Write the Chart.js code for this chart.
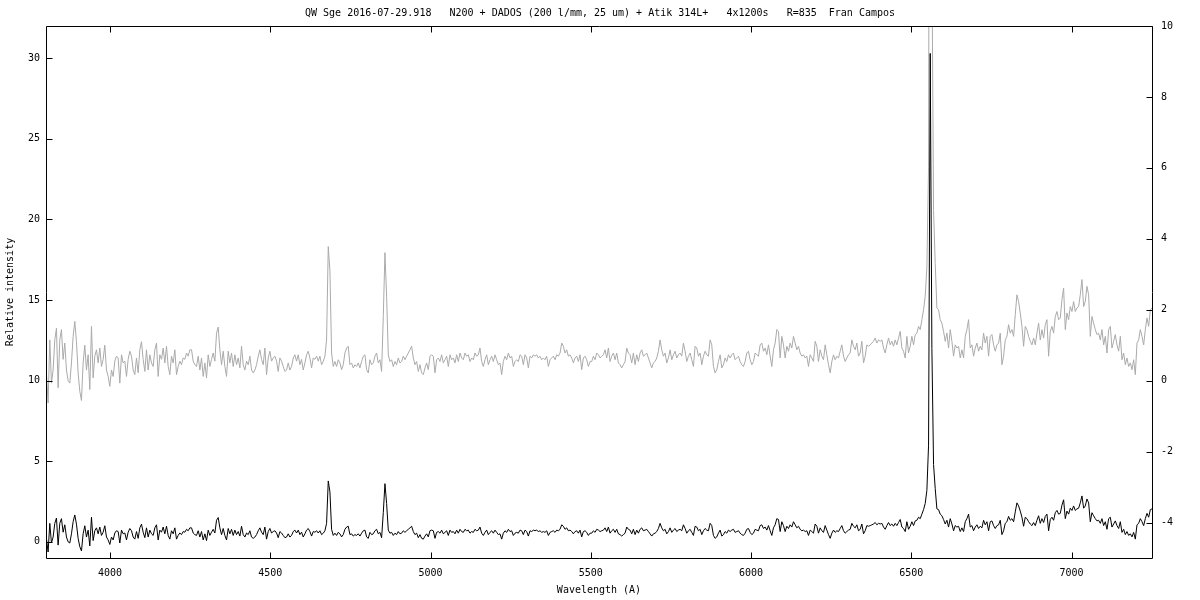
<!DOCTYPE html>
<html>
<head>
<meta charset="utf-8">
<title>QW Sge 2016-07-29.918</title>
<script src="https://cdn.jsdelivr.net/npm/chart.js@4.4.0/dist/chart.umd.min.js"></script>
<style>
  html, body { margin: 0; padding: 0; background: #fff; }
  #wrap { width: 1200px; height: 600px; }
</style>
</head>
<body>
<div id="wrap"><canvas id="spectrum" width="1200" height="600"></canvas></div>
<script>
// Spectrum, linear dispersion (start + step per sample)
const lambdaStart = 3801.4;
const lambdaStep = 5.203;

// 3801 - 4654 A
const fluxBlue = [
    0.2, -0.63, 1.15, -0.07, 0.3, 1.15, 1.48, -0.2, 1.15, 1.44,
    0.6, 1.06, 0.3, 0.0, -0.07, 0.5, 1.25, 1.67, 1.1, 0.22,
    -0.3, -0.56, 0.5, 1.0, 0.3, 0.73, -0.25, 1.53, 0.08, 0.69,
    0.87, 0.5, 0.92, 0.4, 0.6, 1.0, 0.3, 0.12, -0.16, 0.3,
    0.12, 0.55, 0.69, 0.64, -0.07, 0.73, 0.5, 0.55, 0.12, 0.6,
    0.83, 0.69, 0.3, 0.17, 0.64, 0.22, 0.87, 1.1, 0.6, 0.26,
    0.87, 0.3, 0.73, 0.5, 0.4, 0.87, 1.06, 0.12, 0.73, 0.6,
    0.92, 0.5, 0.97, 0.4, 0.17, 0.69, 0.5, 0.87, 0.17, 0.4,
    0.55, 0.45, 0.64, 0.6, 0.78, 0.69, 0.87, 0.87, 0.55, 0.45,
    0.4, 0.69, 0.3, 0.64, 0.12, 0.5, 0.08, 0.73, 0.4, 0.6,
    0.78, 0.55, 1.34, 1.51, 0.87, 0.45, 0.83, 0.4, 0.12, 0.83,
    0.5, 0.78, 0.4, 0.73, 0.45, 0.64, 0.36, 0.97, 0.45, 0.3,
    0.55, 0.45, 0.69, 0.3, 0.22, 0.3, 0.45, 0.69, 0.87, 0.6,
    0.45, 0.92, 0.17, 0.64, 0.83, 0.55, 0.64, 0.69, 0.55, 0.26,
    0.64, 0.55, 0.4, 0.26, 0.3, 0.5, 0.3, 0.4, 0.64, 0.73,
    0.55, 0.73, 0.45, 0.6, 0.3, 0.5, 0.73, 0.83, 0.64, 0.36,
    0.64, 0.6, 0.69, 0.55, 0.69
];

// 4659 - 5497 A (He II 4686, H-beta)
const fluxGreen = [
    0.45, 0.54, 0.69, 1.15, 3.78, 3.1, 0.78, 0.40, 0.54, 0.40,
    0.59, 0.50, 0.31, 0.45, 0.78, 0.92, 0.97, 0.45, 0.50, 0.36,
    0.45, 0.40, 0.50, 0.36, 0.54, 0.69, 0.73, 0.31, 0.22, 0.59,
    0.45, 0.50, 0.69, 0.78, 0.50, 0.59, 0.26, 1.81, 3.61, 2.38,
    0.73, 0.54, 0.59, 0.40, 0.54, 0.45, 0.64, 0.50, 0.54, 0.69,
    0.59, 0.69, 0.78, 0.87, 0.97, 0.64, 0.45, 0.54, 0.26, 0.45,
    0.22, 0.17, 0.36, 0.50, 0.31, 0.69, 0.73, 0.69, 0.22, 0.59,
    0.64, 0.54, 0.73, 0.50, 0.59, 0.69, 0.40, 0.73, 0.59, 0.64,
    0.50, 0.73, 0.54, 0.78, 0.64, 0.59, 0.78, 0.69, 0.73, 0.54,
    0.64, 0.59, 0.78, 0.69, 0.73, 0.92, 0.54, 0.40, 0.59, 0.73,
    0.45, 0.59, 0.69, 0.54, 0.73, 0.59, 0.45, 0.50, 0.17, 0.54,
    0.69, 0.59, 0.78, 0.64, 0.69, 0.40, 0.54, 0.59, 0.54, 0.73,
    0.69, 0.45, 0.73, 0.64, 0.36, 0.69, 0.64, 0.73, 0.69, 0.73,
    0.64, 0.69, 0.59, 0.64, 0.59, 0.69, 0.40, 0.59, 0.64, 0.69,
    0.59, 0.73, 0.69, 0.78, 1.06, 0.97, 0.78, 0.87, 0.69, 0.73,
    0.64, 0.50, 0.64, 0.69, 0.54, 0.73, 0.31, 0.64, 0.69, 0.59,
    0.40, 0.54
];

// 5502 - 6402 A
const fluxYellow = [
    0.54, 0.69, 0.59, 0.78, 0.73, 0.64, 0.69, 0.73, 0.87, 0.64,
    0.92, 0.54, 0.69, 0.78, 0.59, 0.78, 0.50, 0.45, 0.36, 0.45,
    0.54, 0.92, 0.78, 0.73, 0.50, 0.78, 0.45, 0.73, 0.54, 0.78,
    0.87, 0.69, 0.73, 0.78, 0.64, 0.50, 0.36, 0.50, 0.54, 0.64,
    0.83, 1.15, 0.87, 0.69, 0.78, 0.50, 0.64, 0.87, 0.59, 0.73,
    0.83, 0.64, 0.73, 0.78, 0.69, 1.06, 0.83, 0.54, 0.69, 0.78,
    0.59, 0.40, 0.97, 0.92, 0.69, 0.78, 0.45, 0.69, 0.83, 0.73,
    0.69, 1.15, 1.01, 0.40, 0.22, 0.31, 0.54, 0.73, 0.36, 0.45,
    0.64, 0.54, 0.73, 0.64, 0.73, 0.78, 0.59, 0.64, 0.69, 0.54,
    0.45, 0.40, 0.54, 0.78, 0.83, 0.59, 0.45, 0.54, 0.78, 0.73,
    0.69, 1.01, 1.06, 0.83, 0.92, 0.73, 1.01, 0.69, 0.40, 0.87,
    1.06, 1.44, 1.39, 0.64, 1.25, 1.01, 0.64, 0.97, 0.83, 1.06,
    0.92, 1.25, 1.06, 0.87, 0.97, 0.78, 0.69, 0.73, 0.64, 0.69,
    0.40, 0.73, 0.64, 0.54, 1.11, 0.97, 0.54, 0.87, 0.69, 0.59,
    1.01, 0.73, 0.45, 0.22, 0.54, 0.73, 0.59, 0.69, 0.64, 0.83,
    1.01, 0.69, 0.54, 0.64, 0.73, 0.78, 1.15, 0.97, 0.87, 1.06,
    0.69, 0.78, 1.11, 0.50, 0.69, 1.01, 0.97, 1.01, 1.06, 1.11,
    1.20, 1.06, 1.15, 1.11
];

// 6408 - 7251 A (H-alpha)
const fluxRed = [
    1.15, 0.92, 0.78, 1.01, 1.20, 1.01, 1.11, 0.97, 1.15, 1.01,
    1.20, 1.39, 0.92, 0.83, 0.64, 1.25, 0.78, 0.97, 1.25, 1.01,
    1.30, 1.34, 1.53, 1.44, 1.72, 2.00, 2.38, 3.2, 6.0, 30.3,
    12.0, 4.8, 3.3, 2.05, 2.00, 1.72, 1.62, 1.39, 1.11, 1.34,
    0.92, 1.44, 1.11, 0.69, 1.01, 0.92, 0.97, 0.64, 0.87, 0.64,
    1.25, 1.44, 1.72, 0.92, 1.01, 0.69, 0.92, 1.06, 0.83, 0.97,
    0.87, 1.34, 1.06, 1.25, 0.69, 1.25, 1.30, 1.01, 0.83, 1.01,
    1.06, 1.34, 0.45, 0.69, 1.15, 1.25, 1.58, 1.34, 1.44, 1.25,
    1.86, 2.42, 2.23, 1.91, 1.53, 0.97, 1.53, 1.44, 1.25, 1.11,
    1.01, 1.20, 1.01, 1.34, 1.62, 1.15, 1.44, 1.20, 1.58, 1.72,
    0.69, 1.39, 1.53, 1.34, 1.81, 1.95, 1.72, 1.77, 2.28, 2.61,
    1.44, 1.91, 1.72, 2.09, 1.95, 2.23, 1.95, 2.05, 2.09, 2.42,
    2.85, 2.09, 2.23, 2.66, 2.42, 1.25, 1.81, 1.62, 1.44, 1.30,
    1.34, 1.15, 1.44, 1.01, 1.25, 0.78, 1.44, 1.53, 0.92, 1.11,
    1.30, 1.01, 0.83, 1.25, 0.59, 0.78, 0.45, 0.64, 0.40, 0.50,
    0.31, 0.59, 0.17, 1.06, 1.15, 1.44, 1.25, 1.01, 1.44, 1.77,
    1.53, 2.00, 2.05
];

const xTicks = [4000, 4500, 5000, 5500, 6000, 6500, 7000];
const yTicks = [0, 5, 10, 15, 20, 25, 30];
const y2Ticks = [-4, -2, 0, 2, 4, 6, 8, 10];

const titleText = 'QW Sge 2016-07-29.918   N200 + DADOS (200 l/mm, 25 um) + Atik 314L+   4x1200s   R=835  Fran Campos';

const flux = [].concat(fluxBlue, fluxGreen, fluxYellow, fluxRed);

function spectrumPoints() {
    return flux.map((v, i) => ({ x: lambdaStart + i * lambdaStep, y: v }));
}

// gnuplot style: box border, ticks pointing inward, x ticks mirrored on top
const gnuplotFrame = {
    id: 'gnuplotFrame',
    afterDatasetsDraw(chart) {
        const { ctx, chartArea: a, scales } = chart;
        const len = 6;
        const left = Math.round(a.left) + 0.5;
        const right = Math.round(a.right) + 0.5;
        const top = Math.round(a.top) + 0.5;
        const bottom = Math.round(a.bottom) + 0.5;
        ctx.save();
        ctx.strokeStyle = '#000';
        ctx.lineWidth = 1;
        ctx.beginPath();
        xTicks.forEach(v => {
            const px = Math.round(scales.x.getPixelForValue(v)) + 0.5;
            ctx.moveTo(px, bottom); ctx.lineTo(px, bottom - len);
            ctx.moveTo(px, top); ctx.lineTo(px, top + len);
        });
        yTicks.forEach(v => {
            const py = Math.round(scales.y.getPixelForValue(v)) + 0.5;
            ctx.moveTo(left, py); ctx.lineTo(left + len, py);
        });
        y2Ticks.forEach(v => {
            const py = Math.round(scales.y1.getPixelForValue(v)) + 0.5;
            ctx.moveTo(right, py); ctx.lineTo(right - len, py);
        });
        ctx.rect(left, top, right - left, bottom - top);
        ctx.stroke();
        ctx.restore();
    }
};

Chart.defaults.font.family = '"DejaVu Sans Mono", "Liberation Mono", monospace';
Chart.defaults.font.size = 10;
Chart.defaults.color = '#000';

const axisFont = { family: '"DejaVu Sans Mono", "Liberation Mono", monospace', size: 10, weight: 'normal' };
const plainLabel = v => String(v);

new Chart(document.getElementById('spectrum'), {
    type: 'line',
    data: {
        datasets: [
            {
                label: 'Relative intensity',
                data: spectrumPoints(),
                yAxisID: 'y',
                borderColor: '#000000',
                borderWidth: 1,
                pointRadius: 0,
                tension: 0,
                order: 0
            },
            {
                label: 'Relative intensity (right scale)',
                data: spectrumPoints(),
                yAxisID: 'y1',
                borderColor: '#aaaaaa',
                borderWidth: 1,
                pointRadius: 0,
                tension: 0,
                order: 1
            }
        ]
    },
    options: {
        responsive: false,
        animation: false,
        events: [],
        layout: { padding: 0 },
        plugins: {
            legend: { display: false },
            tooltip: { enabled: false },
            title: {
                display: true,
                text: titleText,
                font: axisFont,
                color: '#000',
                padding: { top: 7, bottom: 7 }
            }
        },
        scales: {
            x: {
                type: 'linear',
                min: 3800,
                max: 7251,
                afterBuildTicks: s => { s.ticks = xTicks.map(v => ({ value: v })); },
                afterFit: s => { s.height = 42; },
                grid: { display: false, drawTicks: false },
                border: { display: false },
                ticks: { padding: 9, maxRotation: 0, font: axisFont, autoSkip: false, callback: plainLabel },
                title: { display: true, text: 'Wavelength (A)', font: axisFont, padding: { top: 0, bottom: 4 } }
            },
            y: {
                type: 'linear',
                position: 'left',
                min: -1,
                max: 32,
                afterBuildTicks: s => { s.ticks = yTicks.map(v => ({ value: v })); },
                afterFit: s => { s.width = 46; },
                grid: { display: false, drawTicks: false },
                border: { display: false },
                ticks: { padding: 6, font: axisFont, callback: plainLabel },
                title: { display: true, text: 'Relative intensity', font: axisFont, padding: { top: 4, bottom: 0 } }
            },
            y1: {
                type: 'linear',
                position: 'right',
                min: -5,
                max: 10,
                afterBuildTicks: s => { s.ticks = y2Ticks.map(v => ({ value: v })); },
                afterFit: s => { s.width = 48; },
                grid: { display: false, drawTicks: false },
                border: { display: false },
                ticks: { padding: 9, font: axisFont, callback: plainLabel }
            }
        }
    },
    plugins: [gnuplotFrame]
});
</script>
</body>
</html>
